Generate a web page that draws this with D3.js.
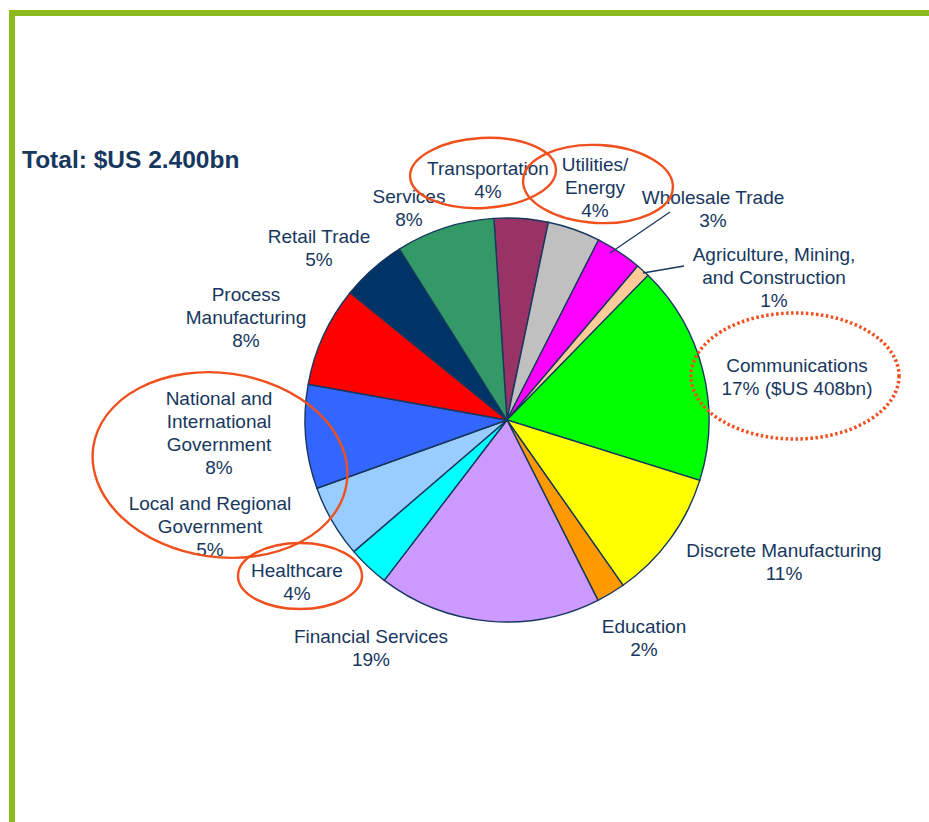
<!DOCTYPE html>
<html>
<head>
<meta charset="utf-8">
<script src="https://cdn.jsdelivr.net/npm/d3@7"></script>
<style>
  html, body { margin: 0; padding: 0; background: #fff; }
  svg { display: block; }
  text { font-family: "Liberation Sans", Arial, sans-serif; fill: #17375E; }
</style>
</head>
<body>
<svg id="chart" width="929" height="822"></svg>
<script>
// ---- data (clockwise from just left of 12 o'clock) ----
const categories = [
  "Transportation", "Utilities/Energy", "Wholesale Trade",
  "Agriculture, Mining, and Construction", "Communications",
  "Discrete Manufacturing", "Education", "Financial Services", "Healthcare",
  "Local and Regional Government", "National and International Government",
  "Process Manufacturing", "Retail Trade", "Services"
];
// slice shares as measured from the pie (%)
const shares = [4.3, 4.2, 3.7, 1.1, 17.5, 10.4, 2.3, 17.8, 3.3, 5.8, 8.3, 8.0, 5.2, 7.9];
// printed percentage labels
const percentLabels = ["4%", "4%", "3%", "1%", "17% ($US 408bn)", "11%", "2%", "19%", "4%", "5%", "8%", "8%", "5%", "8%"];
// label line breaks
const labelLines = [
  ["Transportation"], ["Utilities/", "Energy"], ["Wholesale Trade"],
  ["Agriculture, Mining,", "and Construction"], ["Communications"],
  ["Discrete Manufacturing"], ["Education"], ["Financial Services"], ["Healthcare"],
  ["Local and Regional", "Government"], ["National and", "International", "Government"],
  ["Process", "Manufacturing"], ["Retail Trade"], ["Services"]
];
const colors = ["#993366", "#C0C0C0", "#FF00FF", "#FFCC99", "#00FF00", "#FFFF00",
  "#FF9900", "#CC99FF", "#00FFFF", "#99CCFF", "#3366FF", "#FF0000", "#003366", "#339966"];
const totalText = "Total: $US 2.400bn";

// ---- layout ----
const W = 929, H = 822;
const cx = 507, cy = 420, R = 202;
const startDeg = -3.7;
// label anchor (center x, first-line y) per category
const labelPos = [
  [488, 175], [595, 171], [713, 204], [774, 261], [797, 372], [784, 557], [644, 633],
  [371, 643], [297, 577], [210, 510], [219, 405], [246, 301], [319, 243], [409, 203]
];
const lineH = 23;
const leaders = { 2: [[610, 253], [670, 212]], 3: [[643, 273], [684, 266]] };
const rings = [
  { cx: 483, cy: 173, rx: 73, ry: 35, rot: -3, dotted: false },
  { cx: 598, cy: 184, rx: 75, ry: 39, rot: 3, dotted: false },
  { cx: 795, cy: 376, rx: 104, ry: 63, rot: 0, dotted: true },
  { cx: 220, cy: 465, rx: 128, ry: 92, rot: 8, dotted: false },
  { cx: 300, cy: 576, rx: 62, ry: 33, rot: 0, dotted: false }
];

const svg = d3.select("#chart");

// frame
svg.append("rect").attr("x", 9).attr("y", 10).attr("width", W).attr("height", 6).attr("fill", "#8CBA1E");
svg.append("rect").attr("x", 9).attr("y", 10).attr("width", 6).attr("height", H).attr("fill", "#8CBA1E");

// title
svg.append("text").attr("x", 22).attr("y", 168)
  .style("font-size", "24.5px").style("font-weight", "bold").text(totalText);

// pie
const data = categories.map((c, i) => ({ c, v: shares[i], i }));
const pie = d3.pie().value(d => d.v).sort(null)
  .startAngle(startDeg * Math.PI / 180)
  .endAngle((startDeg + 360) * Math.PI / 180);
const arc = d3.arc().innerRadius(0).outerRadius(R);
const g = svg.append("g").attr("transform", `translate(${cx},${cy})`);
g.selectAll("path").data(pie(data)).join("path")
  .attr("d", arc)
  .attr("fill", d => colors[d.data.i])
  .attr("stroke", "#17375E")
  .attr("stroke-width", 1.4)
  .attr("stroke-linejoin", "round");

// leader lines
Object.entries(leaders).forEach(([k, pts]) => {
  svg.append("line").attr("x1", pts[0][0]).attr("y1", pts[0][1])
    .attr("x2", pts[1][0]).attr("y2", pts[1][1])
    .attr("stroke", "#17375E").attr("stroke-width", 1.3);
});

// labels
const lg = svg.append("g");
categories.forEach((c, i) => {
  const lines = labelLines[i].concat([percentLabels[i]]);
  const t = lg.append("text").attr("text-anchor", "middle")
    .attr("dominant-baseline", "middle")
    .style("font-size", "19px");
  lines.forEach((ln, j) => {
    t.append("tspan").attr("x", labelPos[i][0]).attr("y", labelPos[i][1] + j * lineH - 5).text(ln);
  });
});

// annotation rings
rings.forEach(r => {
  svg.append("ellipse")
    .attr("cx", 0).attr("cy", 0).attr("rx", r.rx).attr("ry", r.ry)
    .attr("transform", `translate(${r.cx},${r.cy}) rotate(${r.rot})`)
    .attr("fill", "none")
    .attr("stroke", "#F0501E")
    .attr("stroke-width", r.dotted ? 3.5 : 2.4)
    .attr("stroke-dasharray", r.dotted ? "2.5,2.5" : null);
});
</script>
</body>
</html>
